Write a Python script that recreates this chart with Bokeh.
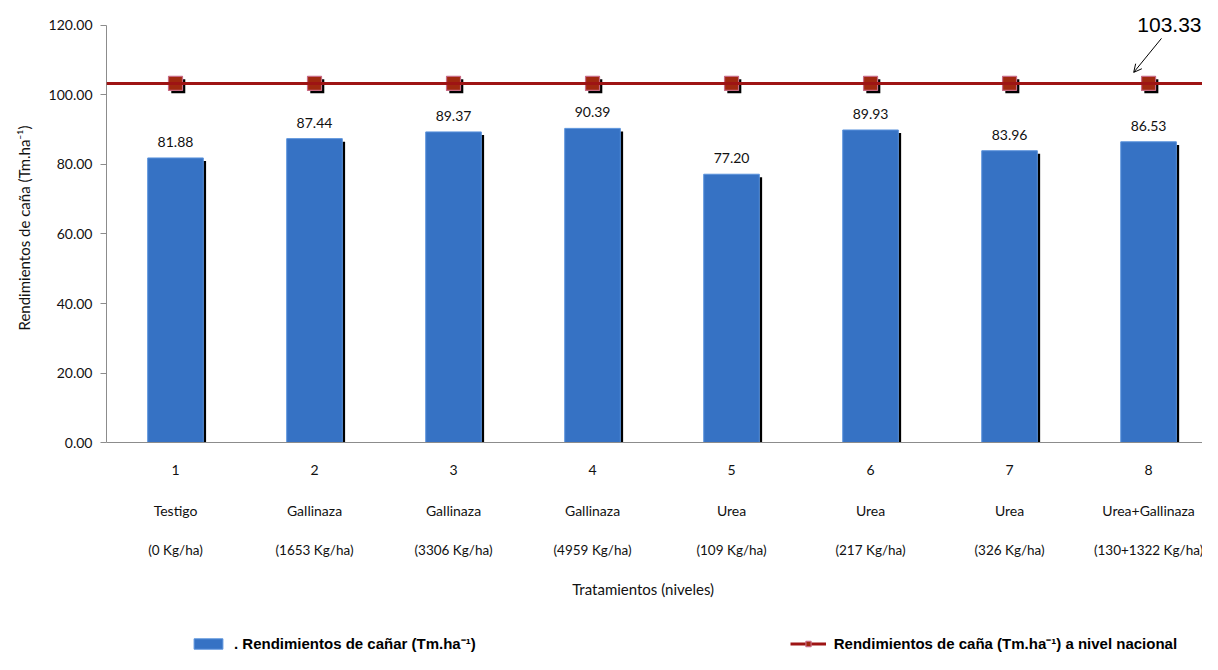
from bokeh.plotting import figure
from bokeh.models import (Range1d, FixedTicker, NumeralTickFormatter, Span, Title,
                          Label, Arrow, OpenHead, Legend, LegendItem, ColumnDataSource)
from bokeh.transform import dodge
from bokeh.core.properties import value
from bokeh.embed import file_html
from bokeh.resources import INLINE

# ---- data ----
categorias = ["1", "2", "3", "4", "5", "6", "7", "8"]
tratamientos = ["Testigo", "Gallinaza", "Gallinaza", "Gallinaza", "Urea", "Urea", "Urea", "Urea+Gallinaza"]
dosis = ["(0 Kg/ha)", "(1653 Kg/ha)", "(3306 Kg/ha)", "(4959 Kg/ha)", "(109 Kg/ha)",
         "(217 Kg/ha)", "(326 Kg/ha)", "(130+1322 Kg/ha)"]
rendimientos = [81.88, 87.44, 89.37, 90.39, 77.20, 89.93, 83.96, 86.53]
nacional = 103.33
y_ticks = [0, 20, 40, 60, 80, 100, 120]

xs = list(range(1, len(categorias) + 1))
src = ColumnDataSource(dict(
    x=xs,
    y=rendimientos,
    zero=[0] * len(xs),
    lbl=["{:.2f}".format(v) for v in rendimientos],
    nac=[nacional] * len(xs),
    cat=categorias,
    trat=tratamientos,
    dos=dosis,
))

FONT = "Lato"
TXT = "#111111"
FS = "14px"

p = figure(width=1202, height=654, x_range=Range1d(0.5036, 8.388), y_range=Range1d(-61.0, 127.19),
           output_backend="svg", toolbar_location=None, x_axis_location=None,
           min_border_left=106, min_border_right=0, min_border_top=0, min_border_bottom=0)
p.outline_line_color = None
p.xgrid.visible = False
p.ygrid.visible = False
p.background_fill_color = "white"

# ---- y axis ----
ya = p.yaxis[0]
ya.ticker = FixedTicker(ticks=y_ticks)
ya.bounds = (0, 120)
ya.formatter = NumeralTickFormatter(format="0.00")
ya.axis_line_color = "#8c8c8c"
ya.major_tick_line_color = "#8c8c8c"
ya.major_tick_out = 6
ya.major_tick_in = 0
ya.minor_tick_line_color = None
ya.major_label_text_font = FONT
ya.major_label_text_font_size = FS
ya.major_label_text_color = TXT
ya.major_label_standoff = 8

p.add_layout(Title(text="Rendimientos de caña (Tm.ha\u207b\u00b9)", align="left", offset=324,
                   text_font=FONT, text_font_size="15px", text_font_style="normal",
                   text_color=TXT, standoff=25), "left")

# ---- x axis line and category label rows ----
p.add_layout(Span(location=0, dimension="width", line_color="#8c8c8c", line_width=1))
for col, off, fs in (("cat", 27, FS), ("trat", 68, FS), ("dos", 107, "13.5px")):
    p.text(x="x", y="zero", text=col, source=src, text_align="center", text_baseline="middle",
           y_offset=off, text_font=value(FONT), text_font_size=fs, text_color=TXT)
p.add_layout(Label(x=4.364, y=0, y_offset=-146, text="Tratamientos (niveles)",
                   text_align="center", text_baseline="middle",
                   text_font=FONT, text_font_size="15px", text_color=TXT))

# ---- bars ----
BLUE = "#3672c4"
shadow_src = ColumnDataSource(dict(x=xs, top=[v - 0.9 for v in rendimientos]))
p.vbar(x=dodge("x", 0.02, range=p.x_range), top="top", bottom=0, width=0.4,
       source=shadow_src, fill_color="black", line_color=None)
bars = p.vbar(x="x", top="y", bottom=0, width=0.4, source=src,
              fill_color=BLUE, line_color="#5b93dc", line_width=1)

p.text(x="x", y="y", text="lbl", source=src, text_align="center", text_baseline="bottom",
       y_offset=-11, text_font=value(FONT), text_font_size=FS, text_color=TXT)

# ---- national line ----
RED = "#9e1414"
p.add_layout(Span(location=nacional, dimension="width", line_color=RED, line_width=3))
line_r = p.line(x="x", y="nac", source=src, line_color=RED, line_width=3)
msh_src = ColumnDataSource(dict(x=xs, y=[nacional - 0.85] * len(xs)))
p.scatter(x=dodge("x", 0.02, range=p.x_range), y="y", source=msh_src, marker="square",
          size=14, fill_color="black", line_color=None)
mk = p.scatter(x="x", y="nac", source=src, marker="square", size=14,
               fill_color="#a0280f", line_color="#c86a84", line_width=1.2)

# annotation 103.33
p.add_layout(Label(x=8.15, y=120.0, text="{:.2f}".format(nacional), text_align="center",
                   text_baseline="middle", text_font="Liberation Sans",
                   text_font_size="21px", text_color="black"))
p.add_layout(Arrow(x_start=8.093, y_start=116.3, x_end=7.893, y_end=106.5,
                   line_color="black", line_width=1,
                   end=OpenHead(size=8, line_color="black", line_width=1)))

# ---- legend ----
legend = Legend(items=[
    LegendItem(label=". Rendimientos de cañar (Tm.ha\u207b\u00b9)", renderers=[bars]),
    LegendItem(label="Rendimientos de caña (Tm.ha\u207b\u00b9) a nivel nacional", renderers=[line_r, mk]),
], orientation="horizontal", location=(84, 1))
legend.glyph_width = 36
legend.glyph_height = 13
legend.label_standoff = 8
legend.spacing = 314
legend.padding = 0
legend.margin = 0
legend.border_line_color = None
legend.background_fill_alpha = 0
legend.label_text_font = "Liberation Sans"
legend.label_text_font_size = "15px"
legend.label_text_font_style = "bold"
legend.label_text_color = "black"
p.add_layout(legend, "center")

open("out.html", "w").write(file_html(p, INLINE))
